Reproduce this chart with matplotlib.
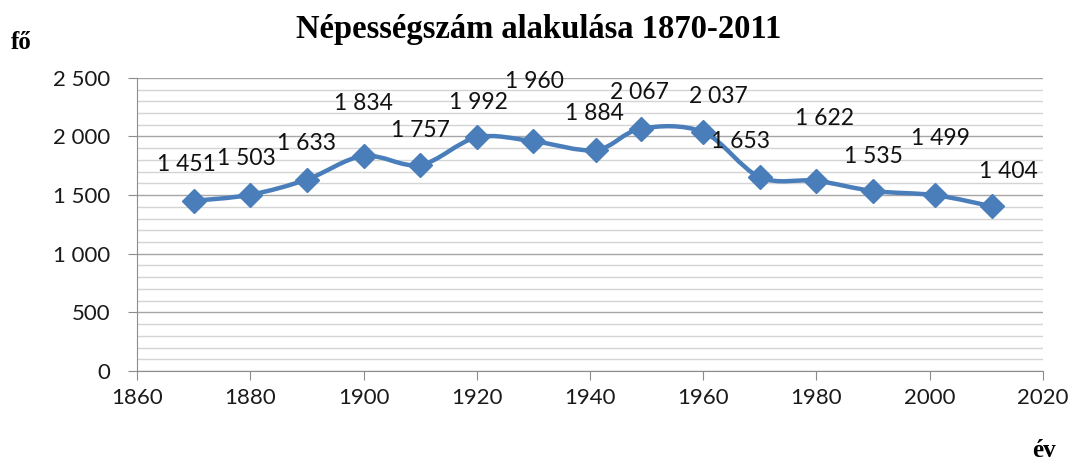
import numpy as np
import matplotlib
matplotlib.use("Agg")
import matplotlib.pyplot as plt
from matplotlib.path import Path
from matplotlib.patches import PathPatch
from matplotlib.ticker import MultipleLocator, FuncFormatter

# data
years = [1870, 1880, 1890, 1900, 1910, 1920, 1930, 1941, 1949, 1960, 1970, 1980, 1990, 2001, 2011]
population = [1451, 1503, 1633, 1834, 1757, 1992, 1960, 1884, 2067, 2037, 1653, 1622, 1535, 1499, 1404]

# label offsets in points (dx, dy)
label_offsets = [(-5, 26), (-3, 26), (0, 26), (0, 38), (0, 25), (1, 25), (1, 43), (-1, 26),
                 (-1, 26), (11, 26), (-14, 26), (6, 45), (0, 25), (4, 41), (12, 25)]

blue = "#4a7ebb"

fig = plt.figure(figsize=(10.73, 4.69), dpi=100)
ax = fig.add_axes([0.1277, 0.209, 0.8443, 0.625])

# smoothed line (Catmull-Rom style bezier, like Excel)
x = np.array(years, dtype=float)
y = np.array(population, dtype=float)
verts = [(x[0], y[0])]
codes = [Path.MOVETO]
n = len(x)
for i in range(n - 1):
    p0 = (x[i - 1], y[i - 1]) if i > 0 else (x[i], y[i])
    p1 = (x[i], y[i])
    p2 = (x[i + 1], y[i + 1])
    p3 = (x[i + 2], y[i + 2]) if i + 2 < n else (x[i + 1], y[i + 1])
    c1 = (p1[0] + (p2[0] - p0[0]) / 6, p1[1] + (p2[1] - p0[1]) / 6)
    c2 = (p2[0] - (p3[0] - p1[0]) / 6, p2[1] - (p3[1] - p1[1]) / 6)
    verts += [c1, c2, p2]
    codes += [Path.CURVE4] * 3
ax.add_patch(PathPatch(Path(verts, codes), fill=False, edgecolor=blue, lw=3.2, zorder=3,
                       capstyle="round", joinstyle="round"))
ax.plot(years, population, linestyle="none", marker="D", markersize=12.5, color=blue, zorder=4)

for xx, yy, (dx, dy) in zip(years, population, label_offsets):
    ax.annotate(f"{yy:,}".replace(",", " "), (xx, yy), xytext=(dx, dy), textcoords="offset points",
                ha="center", va="center", fontsize=16.5, family="Lato", color="#111111")

ax.set_xlim(1860, 2020)
ax.set_ylim(0, 2500)
ax.xaxis.set_major_locator(MultipleLocator(20))
ax.yaxis.set_major_locator(MultipleLocator(500))
ax.yaxis.set_minor_locator(MultipleLocator(100))
ax.yaxis.set_major_formatter(FuncFormatter(lambda v, p: f"{int(v):,}".replace(",", " ")))

ax.grid(axis="y", which="major", color="#a6a6a6", lw=1.0)
ax.grid(axis="y", which="minor", color="#d4d4d4", lw=1.0)
ax.set_axisbelow(True)
for s in ["top", "right"]:
    ax.spines[s].set_visible(False)
for s in ["left", "bottom"]:
    ax.spines[s].set_color("#8c8c8c")
ax.tick_params(axis="both", which="major", color="#8c8c8c", length=6.5, labelsize=16)
ax.tick_params(axis="y", which="major", pad=13)
ax.tick_params(axis="x", which="major", pad=6)
ax.tick_params(axis="y", which="minor", length=0)
for lab in ax.get_xticklabels() + ax.get_yticklabels():
    lab.set_family("Lato")
    lab.set_color("#1a1a1a")

fig.text(0.502, 0.937, "Népességszám alakulása 1870-2011", ha="center", va="center",
         family="Liberation Serif", fontweight="bold", fontsize=23.5)
fig.text(0.02, 0.91, "fő", ha="center", va="center", family="Liberation Serif",
         fontweight="bold", fontsize=18)
fig.text(0.9725, 0.015, "év", ha="center", va="bottom", family="Liberation Serif",
         fontweight="bold", fontsize=18)

fig.savefig("out.png", dpi=100)
